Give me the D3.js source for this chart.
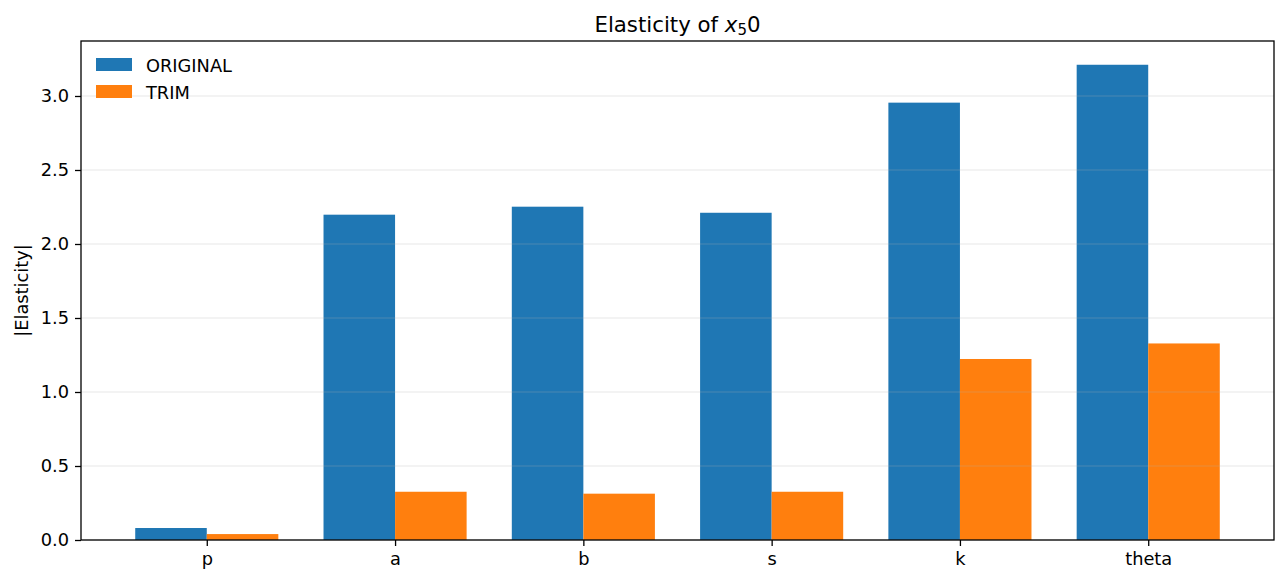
<!DOCTYPE html>
<html>
<head>
<meta charset="utf-8">
<script src="https://cdn.jsdelivr.net/npm/d3@7"></script>
<style>
  body { margin: 0; background: #fff; }
  svg { font-family: "DejaVu Sans", sans-serif; }
  .tick text { font-size: 17.8px; fill: #000; }
</style>
</head>
<body>
<svg width="1287" height="584"></svg>
<script>
// data
const params = ['p', 'a', 'b', 's', 'k', 'theta'];
const original = [0.081, 2.198, 2.252, 2.211, 2.955, 3.211];
const trim = [0.040, 0.326, 0.313, 0.326, 1.223, 1.328];
const yTicks = [0, 0.5, 1.0, 1.5, 2.0, 2.5, 3.0];
const seriesNames = ['ORIGINAL', 'TRIM'];
const colors = ['#1f77b4', '#ff7f0e'];

const plotLeft = 81, plotRight = 1274, plotTop = 41, plotBottom = 540;
const barW = 0.38;

const svg = d3.select('svg');

const span = params.length - 1 + 2 * barW;
const x = d3.scaleLinear()
  .domain([-barW - 0.05 * span, params.length - 1 + barW + 0.05 * span])
  .range([plotLeft, plotRight]);

const yMax = d3.max(original.concat(trim)) * 1.05;
const y = d3.scaleLinear()
  .domain([0, yMax])
  .range([plotBottom, plotTop]);

const rows = params.map((p, i) => ({ name: p, i: i, vals: [original[i], trim[i]] }));

// bars
const groups = svg.append('g')
  .selectAll('g')
  .data(rows)
  .enter()
  .append('g');

groups.selectAll('rect')
  .data(d => d.vals.map((v, s) => ({ i: d.i, v: v, s: s })))
  .enter()
  .append('rect')
  .attr('x', d => x(d.i - barW + d.s * barW))
  .attr('y', d => y(d.v))
  .attr('width', d => x(barW) - x(0))
  .attr('height', d => y(0) - y(d.v))
  .attr('fill', d => colors[d.s]);

// grid (drawn over bars, faint)
svg.append('g')
  .selectAll('line')
  .data(yTicks)
  .enter()
  .append('line')
  .attr('x1', plotLeft)
  .attr('x2', plotRight)
  .attr('y1', d => y(d))
  .attr('y2', d => y(d))
  .attr('stroke', '#b0b0b0')
  .attr('stroke-opacity', 0.3)
  .attr('stroke-width', 1.1);

// axes
const xAxis = svg.append('g')
  .attr('transform', `translate(0, ${plotBottom})`)
  .call(d3.axisBottom(x)
    .tickValues(d3.range(params.length))
    .tickFormat(i => params[i])
    .tickSize(6)
    .tickPadding(6));

const yAxis = svg.append('g')
  .attr('transform', `translate(${plotLeft}, 0)`)
  .call(d3.axisLeft(y)
    .tickValues(yTicks)
    .tickFormat(d3.format('.1f'))
    .tickSize(6)
    .tickPadding(6));

[xAxis, yAxis].forEach(a => {
  a.select('.domain').remove();
  a.selectAll('.tick line').attr('stroke', '#000').attr('stroke-width', 1.3);
  a.selectAll('text').attr('font-family', '"DejaVu Sans", sans-serif');
});

// frame
svg.append('rect')
  .attr('x', plotLeft)
  .attr('y', plotTop)
  .attr('width', plotRight - plotLeft)
  .attr('height', plotBottom - plotTop)
  .attr('fill', 'none')
  .attr('stroke', '#000')
  .attr('stroke-width', 1.3);

// title
const title = svg.append('text')
  .attr('x', (plotLeft + plotRight) / 2)
  .attr('y', 31.5)
  .attr('text-anchor', 'middle')
  .attr('font-size', 21.3);
title.append('tspan').text('Elasticity of ');
title.append('tspan').attr('font-style', 'italic').text('x');
title.append('tspan').attr('font-size', 15).attr('dy', 3.5).text('5');
title.append('tspan').attr('dy', -3.5).text('0');

// y label
svg.append('text')
  .attr('transform', `translate(28, ${(plotTop + plotBottom) / 2}) rotate(-90)`)
  .attr('text-anchor', 'middle')
  .attr('font-size', 17.8)
  .text('|Elasticity|');

// legend
const legend = svg.append('g')
  .selectAll('g')
  .data(seriesNames)
  .enter()
  .append('g')
  .attr('transform', (d, i) => `translate(96, ${58 + i * 27})`);

legend.append('rect')
  .attr('width', 36)
  .attr('height', 13)
  .attr('fill', (d, i) => colors[i]);

legend.append('text')
  .attr('x', 50)
  .attr('y', 14)
  .attr('font-size', 17.8)
  .text(d => d);
</script>
</body>
</html>
